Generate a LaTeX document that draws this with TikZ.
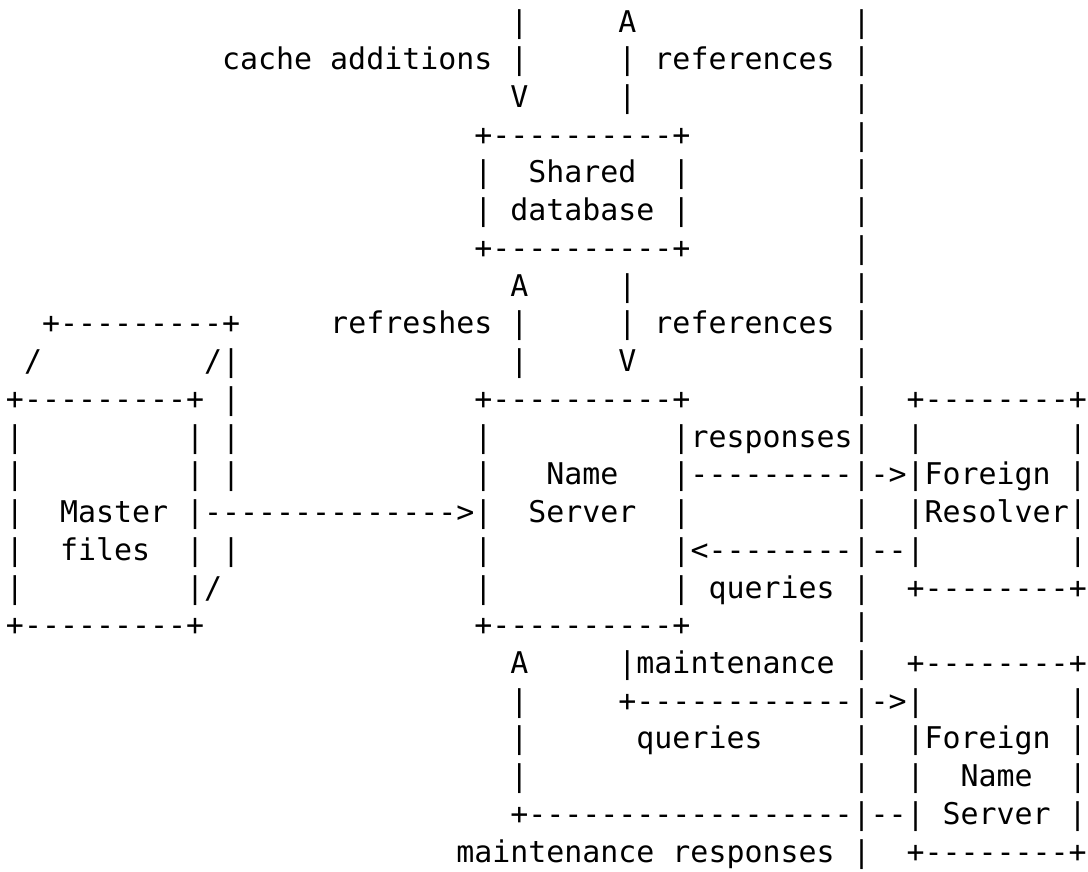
\documentclass[tikz,border=0pt]{standalone}
\usepackage{fontspec}
\setmonofont{DejaVu Sans Mono}
\newcommand\Sp[1]{\hspace*{#1\fontcharwd\font`\M}}
\newcommand\ascfont{\ttfamily\fontsize{22.44pt}{28.3pt}\selectfont}
\tikzset{asc/.style={anchor=base west, inner sep=0pt, outer sep=0pt, font=\ascfont}}
\begin{document}
\begin{tikzpicture}[x=1pt,y=-28.3pt]
\useasboundingbox (0,0) rectangle (816pt,-653.25pt);
\begin{scope}[shift={(4.5pt,-24pt)}]
\node[asc] (l1) at (0,0) {\Sp{28}|\Sp{5}A\Sp{12}|};
\node[asc] (l2) at (0,1) {\Sp{12}cache additions |\Sp{5}| references |};
\node[asc] (l3) at (0,2) {\Sp{28}V\Sp{5}|\Sp{12}|};
\node[asc] (l4) at (0,3) {\Sp{26}+----------+\Sp{9}|};
\node[asc] (l5) at (0,4) {\Sp{26}|\Sp{2}Shared\Sp{2}|\Sp{9}|};
\node[asc] (l6) at (0,5) {\Sp{26}| database |\Sp{9}|};
\node[asc] (l7) at (0,6) {\Sp{26}+----------+\Sp{9}|};
\node[asc] (l8) at (0,7) {\Sp{28}A\Sp{5}|\Sp{12}|};
\node[asc] (l9) at (0,8) {\Sp{2}+---------+\Sp{5}refreshes |\Sp{5}| references |};
\node[asc] (l10) at (0,9) {\Sp{1}/\Sp{9}/|\Sp{15}|\Sp{5}V\Sp{12}|};
\node[asc] (l11) at (0,10) {+---------+ |\Sp{13}+----------+\Sp{9}|\Sp{2}+--------+};
\node[asc] (l12) at (0,11) {|\Sp{9}| |\Sp{13}|\Sp{10}|responses|\Sp{2}|\Sp{8}|};
\node[asc] (l13) at (0,12) {|\Sp{9}| |\Sp{13}|\Sp{3}Name\Sp{3}|---------|->|Foreign |};
\node[asc] (l14) at (0,13) {|\Sp{2}Master |-------------->|\Sp{2}Server\Sp{2}|\Sp{9}|\Sp{2}|Resolver|};
\node[asc] (l15) at (0,14) {|\Sp{2}files\Sp{2}| |\Sp{13}|\Sp{10}|<--------|--|\Sp{8}|};
\node[asc] (l16) at (0,15) {|\Sp{9}|/\Sp{14}|\Sp{10}| queries |\Sp{2}+--------+};
\node[asc] (l17) at (0,16) {+---------+\Sp{15}+----------+\Sp{9}|};
\node[asc] (l18) at (0,17) {\Sp{28}A\Sp{5}|maintenance |\Sp{2}+--------+};
\node[asc] (l19) at (0,18) {\Sp{28}|\Sp{5}+------------|->|\Sp{8}|};
\node[asc] (l20) at (0,19) {\Sp{28}|\Sp{6}queries\Sp{5}|\Sp{2}|Foreign |};
\node[asc] (l21) at (0,20) {\Sp{28}|\Sp{18}|\Sp{2}|\Sp{2}Name\Sp{2}|};
\node[asc] (l22) at (0,21) {\Sp{28}+------------------|--| Server |};
\node[asc] (l23) at (0,22) {\Sp{25}maintenance responses |\Sp{2}+--------+};
\end{scope}
\end{tikzpicture}
\end{document}
